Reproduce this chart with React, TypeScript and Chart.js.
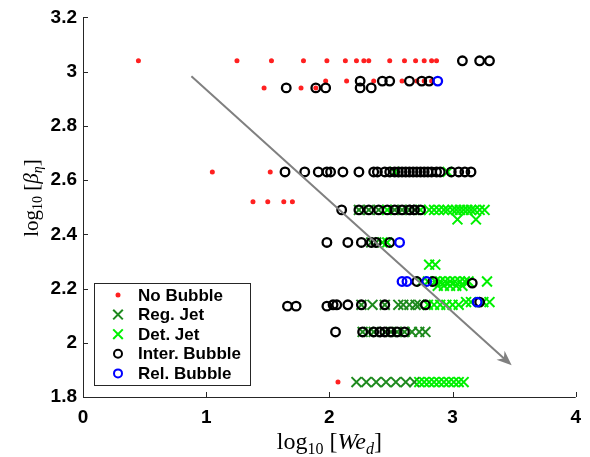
import React, { useEffect, useRef } from "react";
import { Chart, registerables } from "chart.js";

Chart.register(...registerables);

// ---- data (log10 We_d, log10 beta_eta) ----
const noBubble: [number, number][] = [
  [0.45, 3.04], [1.25, 3.04], [1.53, 3.04], [1.79, 3.04], [1.98, 3.04], [2.13, 3.04], [2.22, 3.04],
  [2.28, 3.04], [2.32, 3.04], [2.49, 3.04], [2.61, 3.04], [2.7, 3.04], [2.77, 3.04], [2.83, 3.04], [2.87, 3.04],
  [1.47, 2.94], [1.77, 2.94], [1.89, 2.94],
  [1.97, 2.965], [2.14, 2.965], [2.36, 2.965], [2.59, 2.965], [2.71, 2.965], [2.77, 2.965], [2.83, 2.965],
  [1.05, 2.63], [1.52, 2.63],
  [1.38, 2.52], [1.5, 2.52], [1.63, 2.52], [1.7, 2.52],
  [2.07, 1.855],
];

const regJet: [number, number][] = [
  [2.24, 2.49], [2.32, 2.49], [2.4, 2.49], [2.53, 2.49], [2.59, 2.49], [2.65, 2.49], [2.69, 2.49],
  [2.34, 2.37], [2.38, 2.37],
  [2.26, 2.14], [2.35, 2.14], [2.45, 2.14], [2.56, 2.14], [2.6, 2.14], [2.65, 2.14], [2.7, 2.14], [2.73, 2.14],
  [2.27, 2.04], [2.32, 2.04], [2.36, 2.04], [2.45, 2.04], [2.5, 2.04], [2.55, 2.04], [2.61, 2.04], [2.67, 2.04], [2.73, 2.04], [2.78, 2.04],
  [2.22, 1.855], [2.3, 1.855], [2.38, 1.855], [2.46, 1.855], [2.54, 1.855], [2.62, 1.855], [2.69, 1.855],
];

const detJet: [number, number][] = [
  [2.53, 2.63], [2.96, 2.63],
  [2.47, 2.49], [2.74, 2.49], [2.81, 2.49], [2.85, 2.49], [2.89, 2.49], [2.93, 2.49], [2.96, 2.49], [3.0, 2.49],
  [3.03, 2.49], [3.06, 2.49], [3.09, 2.49], [3.12, 2.49], [3.15, 2.49], [3.18, 2.49], [3.22, 2.49], [3.26, 2.49],
  [3.04, 2.455], [3.19, 2.455],
  [2.43, 2.37], [2.47, 2.37],
  [2.81, 2.288], [2.86, 2.288],
  [2.75, 2.226], [2.8, 2.226], [2.86, 2.226], [2.9, 2.226], [2.94, 2.226], [2.98, 2.226], [3.02, 2.226], [3.06, 2.226], [3.1, 2.226], [3.13, 2.226], [3.28, 2.226],
  [2.88, 2.21], [2.93, 2.21], [2.98, 2.21], [3.03, 2.21], [3.08, 2.21],
  [2.8, 2.14], [2.85, 2.14], [2.9, 2.14], [2.95, 2.14], [3.0, 2.14], [3.05, 2.14],
  [3.11, 2.15], [3.15, 2.15], [3.25, 2.15], [3.3, 2.15],
  [2.73, 1.855], [2.77, 1.855], [2.81, 1.855], [2.85, 1.855], [2.89, 1.855], [2.93, 1.855], [2.97, 1.855], [3.01, 1.855], [3.05, 1.855], [3.09, 1.855],
];

const interBubble: [number, number][] = [
  [3.08, 3.04], [3.22, 3.04], [3.3, 3.04],
  [1.65, 2.94], [1.89, 2.94], [1.97, 2.94], [2.25, 2.94], [2.34, 2.94],
  [2.25, 2.965], [2.43, 2.965], [2.49, 2.965], [2.65, 2.965], [2.75, 2.965], [2.81, 2.965],
  [1.64, 2.63], [1.8, 2.63], [1.91, 2.63], [1.98, 2.63], [2.01, 2.63], [2.11, 2.63], [2.24, 2.63], [2.36, 2.63],
  [2.39, 2.63], [2.45, 2.63], [2.49, 2.63], [2.53, 2.63], [2.56, 2.63], [2.59, 2.63], [2.62, 2.63], [2.65, 2.63],
  [2.68, 2.63], [2.71, 2.63], [2.74, 2.63], [2.77, 2.63], [2.8, 2.63], [2.83, 2.63], [2.87, 2.63], [2.9, 2.63],
  [2.99, 2.63], [3.05, 2.63], [3.1, 2.63], [3.15, 2.63],
  [2.1, 2.49], [2.24, 2.49], [2.32, 2.49], [2.4, 2.49], [2.47, 2.49], [2.53, 2.49], [2.59, 2.49], [2.65, 2.49], [2.69, 2.49], [2.74, 2.49],
  [1.98, 2.37], [2.15, 2.37], [2.26, 2.37], [2.34, 2.37], [2.38, 2.37], [2.49, 2.37],
  [2.71, 2.226], [2.84, 2.226], [3.16, 2.22],
  [1.66, 2.135], [1.73, 2.135], [1.98, 2.135], [2.03, 2.14], [2.06, 2.14], [2.15, 2.14], [2.26, 2.14], [2.45, 2.14], [2.78, 2.14], [3.22, 2.15],
  [2.05, 2.04], [2.27, 2.04], [2.36, 2.04], [2.41, 2.04], [2.45, 2.04], [2.5, 2.04], [2.55, 2.04], [2.61, 2.04],
];

const relBubble: [number, number][] = [
  [2.88, 2.965], [2.57, 2.37], [2.59, 2.226], [2.63, 2.226], [2.79, 2.226], [3.2, 2.15],
];

const arrowStart: [number, number] = [0.88, 2.983];
const arrowEnd: [number, number] = [3.48, 1.917];

const legendLabels = ["No Bubble", "Reg. Jet", "Det. Jet", "Inter. Bubble", "Rel. Bubble"];
const xTicks = [0, 1, 2, 3, 4];
const yTicks = [1.8, 2, 2.2, 2.4, 2.6, 2.8, 3, 3.2];

const RED = "#ff2020";
const DKGREEN = "#1e8a1e";
const LTGREEN = "#00f000";

const toXY = (a: [number, number][]) => a.map(([x, y]) => ({ x, y }));

type Part = { t: string; font: string; dy: number };

function drawRich(ctx: CanvasRenderingContext2D, parts: Part[], cx: number, by: number) {
  let total = 0;
  const widths = parts.map((p) => {
    ctx.font = p.font;
    const w = ctx.measureText(p.t).width;
    total += w;
    return w;
  });
  let x = cx - total / 2;
  ctx.textAlign = "left";
  ctx.textBaseline = "alphabetic";
  parts.forEach((p, i) => {
    ctx.font = p.font;
    ctx.fillText(p.t, x, by + p.dy);
    x += widths[i];
  });
}

function drawMarker(ctx: CanvasRenderingContext2D, kind: number, x: number, y: number) {
  ctx.save();
  if (kind === 0) {
    ctx.fillStyle = RED;
    ctx.beginPath();
    ctx.arc(x, y, 2.5, 0, Math.PI * 2);
    ctx.fill();
  } else if (kind === 1 || kind === 2) {
    ctx.strokeStyle = kind === 1 ? DKGREEN : LTGREEN;
    ctx.lineWidth = 2;
    const d = 4.8;
    ctx.beginPath();
    ctx.moveTo(x - d, y - d);
    ctx.lineTo(x + d, y + d);
    ctx.moveTo(x + d, y - d);
    ctx.lineTo(x - d, y + d);
    ctx.stroke();
  } else {
    ctx.strokeStyle = kind === 3 ? "#000" : "#0000ff";
    ctx.lineWidth = 2;
    ctx.beginPath();
    ctx.arc(x, y, 4, 0, Math.PI * 2);
    ctx.stroke();
  }
  ctx.restore();
}

const decorPlugin = {
  id: "decor",
  afterDatasetsDraw(chart: any) {
    const { ctx, chartArea, scales } = chart;
    const xs = scales.x;
    const ys = scales.y;
    ctx.save();
    // arrow
    const x1 = xs.getPixelForValue(arrowStart[0]);
    const y1 = ys.getPixelForValue(arrowStart[1]);
    const x2 = xs.getPixelForValue(arrowEnd[0]);
    const y2 = ys.getPixelForValue(arrowEnd[1]);
    const ang = Math.atan2(y2 - y1, x2 - x1);
    const L = 15;
    const W = 6;
    ctx.strokeStyle = "#808080";
    ctx.fillStyle = "#808080";
    ctx.lineWidth = 2;
    ctx.beginPath();
    ctx.moveTo(x1, y1);
    ctx.lineTo(x2 - Math.cos(ang) * 8, y2 - Math.sin(ang) * 8);
    ctx.stroke();
    const bx = x2 - Math.cos(ang) * L;
    const by = y2 - Math.sin(ang) * L;
    const nx = -Math.sin(ang);
    const ny = Math.cos(ang);
    ctx.beginPath();
    ctx.moveTo(x2, y2);
    ctx.lineTo(bx + nx * W, by + ny * W);
    ctx.lineTo(x2 - Math.cos(ang) * (L * 0.7), y2 - Math.sin(ang) * (L * 0.7));
    ctx.lineTo(bx - nx * W, by - ny * W);
    ctx.closePath();
    ctx.fill();

    // axes
    const axisColor = "#262626";
    ctx.strokeStyle = axisColor;
    ctx.lineWidth = 1;
    ctx.beginPath();
    ctx.moveTo(chartArea.left + 0.5, chartArea.top);
    ctx.lineTo(chartArea.left + 0.5, chartArea.bottom + 0.5);
    ctx.lineTo(chartArea.right, chartArea.bottom + 0.5);
    ctx.stroke();
    ctx.beginPath();
    xTicks.forEach((v) => {
      const px = Math.round(xs.getPixelForValue(v)) + 0.5;
      ctx.moveTo(px, chartArea.bottom);
      ctx.lineTo(px, chartArea.bottom - 5);
    });
    yTicks.forEach((v) => {
      const py = Math.round(ys.getPixelForValue(v)) + 0.5;
      ctx.moveTo(chartArea.left, py);
      ctx.lineTo(chartArea.left + 5, py);
    });
    ctx.stroke();

    // legend
    const lx = 94, ly = 283, lw = 156, lh = 102;
    ctx.fillStyle = "#fff";
    ctx.fillRect(lx, ly, lw, lh);
    ctx.strokeStyle = "#262626";
    ctx.lineWidth = 1;
    ctx.strokeRect(lx + 0.5, ly + 0.5, lw, lh);
    legendLabels.forEach((lab, i) => {
      const cy = 295 + i * 19.6;
      drawMarker(ctx, i, 118, cy);
      ctx.fillStyle = "#000";
      ctx.font = 'bold 17px "Liberation Sans", Arial, sans-serif';
      ctx.textAlign = "left";
      ctx.textBaseline = "middle";
      ctx.fillText(lab, 138, cy + 1);
    });

    // axis titles
    ctx.fillStyle = "#000";
    const serif = '"Liberation Serif", "DejaVu Serif", serif';
    drawRich(
      ctx,
      [
        { t: "log", font: `24px ${serif}`, dy: 0 },
        { t: "10", font: `16px ${serif}`, dy: 5 },
        { t: " [", font: `24px ${serif}`, dy: 0 },
        { t: "We", font: `italic 24px ${serif}`, dy: 0 },
        { t: "d", font: `italic 16px ${serif}`, dy: 5 },
        { t: "]", font: `24px ${serif}`, dy: 0 },
      ],
      (chartArea.left + chartArea.right) / 2,
      449
    );
    ctx.save();
    ctx.translate(38, 198);
    ctx.rotate(-Math.PI / 2);
    drawRich(
      ctx,
      [
        { t: "log", font: `21px ${serif}`, dy: 0 },
        { t: "10", font: `14px ${serif}`, dy: 4 },
        { t: " [", font: `21px ${serif}`, dy: 0 },
        { t: "β", font: `italic 21px ${serif}`, dy: 0 },
        { t: "η", font: `italic 14px ${serif}`, dy: 4 },
        { t: "]", font: `21px ${serif}`, dy: 0 },
      ],
      0,
      0
    );
    ctx.restore();
    ctx.restore();
  },
};

export default function App() {
  const ref = useRef<HTMLCanvasElement>(null);
  useEffect(() => {
    if (!ref.current) return;
    const tickFont = { family: '"Liberation Sans", Arial, sans-serif', size: 19, weight: "bold" as const };
    const chart = new Chart(ref.current, {
      type: "scatter",
      data: {
        datasets: [
          {
            label: legendLabels[0],
            data: toXY(noBubble),
            pointStyle: "circle",
            pointRadius: 2.5,
            pointBackgroundColor: RED,
            pointBorderWidth: 0,
            order: 4,
          },
          {
            label: legendLabels[1],
            data: toXY(regJet),
            pointStyle: "crossRot",
            pointRadius: 7,
            pointBorderColor: DKGREEN,
            pointBorderWidth: 2,
            order: 3,
          },
          {
            label: legendLabels[2],
            data: toXY(detJet),
            pointStyle: "crossRot",
            pointRadius: 7,
            pointBorderColor: LTGREEN,
            pointBorderWidth: 2,
            order: 2,
          },
          {
            label: legendLabels[3],
            data: toXY(interBubble),
            pointStyle: "circle",
            pointRadius: 4.3,
            pointBackgroundColor: "rgba(0,0,0,0)",
            pointBorderColor: "#000",
            pointBorderWidth: 2.3,
            order: 1,
          },
          {
            label: legendLabels[4],
            data: toXY(relBubble),
            pointStyle: "circle",
            pointRadius: 4.3,
            pointBackgroundColor: "rgba(0,0,0,0)",
            pointBorderColor: "#0000ff",
            pointBorderWidth: 2.3,
            order: 0,
          },
        ],
      },
      options: {
        animation: false,
        responsive: false,
        events: [],
        layout: { padding: { top: 17, right: 13, left: 0, bottom: 0 } },
        plugins: { legend: { display: false }, tooltip: { enabled: false } },
        scales: {
          x: {
            type: "linear",
            min: 0,
            max: 4,
            afterFit: (s: any) => {
              s.height = 60;
            },
            afterBuildTicks: (s: any) => {
              s.ticks = xTicks.map((v) => ({ value: v }));
            },
            ticks: { font: tickFont, color: "#000", padding: 9, callback: (v: any) => String(v) },
            grid: { display: false, drawTicks: false },
            border: { display: false },
          },
          y: {
            type: "linear",
            min: 1.8,
            max: 3.2,
            afterFit: (s: any) => {
              s.width = 83;
            },
            afterBuildTicks: (s: any) => {
              s.ticks = yTicks.map((v) => ({ value: v }));
            },
            ticks: {
              font: tickFont,
              color: "#000",
              padding: 6,
              callback: (v: any) => String(Math.round(Number(v) * 10) / 10),
            },
            grid: { display: false, drawTicks: false },
            border: { display: false },
          },
        },
      },
      plugins: [decorPlugin],
    });
    return () => chart.destroy();
  }, []);
  return (
    <div style={{ position: "absolute", left: 0, top: 0, width: 590, height: 457, background: "#fff" }}>
      <canvas ref={ref} width={590} height={457} />
    </div>
  );
}
